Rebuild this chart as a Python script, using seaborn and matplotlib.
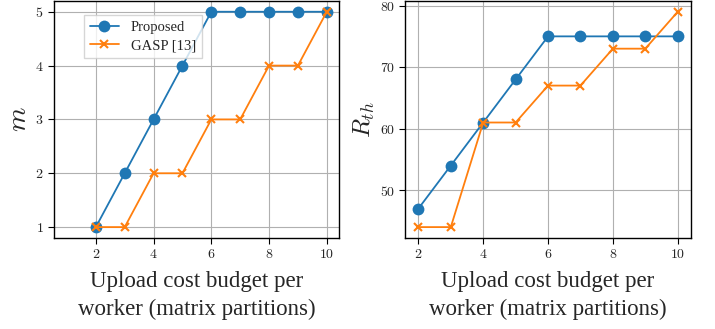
import matplotlib
matplotlib.use('Agg')
import matplotlib.pyplot as plt
import seaborn as sns
import pandas as pd
from matplotlib.ticker import FuncFormatter

budget = [2, 3, 4, 5, 6, 7, 8, 9, 10]
m_proposed = [1, 2, 3, 4, 5, 5, 5, 5, 5]
m_gasp = [1, 1, 2, 2, 3, 3, 4, 4, 5]
rth_proposed = [47, 54, 61, 68, 75, 75, 75, 75, 75]
rth_gasp = [44, 44, 61, 61, 67, 67, 73, 73, 79]

sns.set_style('ticks', {'axes.grid': True, 'grid.color': '#b0b0b0',
                        'axes.edgecolor': 'black'})
plt.rcParams['font.family'] = ['Liberation Serif', 'DejaVu Serif']
plt.rcParams['mathtext.fontset'] = 'cm'

fig = plt.figure(figsize=(7.15, 3.29), dpi=100)
ax1 = fig.add_axes([0.0755, 0.277, 0.3985, 0.72])
ax2 = fig.add_axes([0.567, 0.277, 0.399, 0.72])

math_fmt = FuncFormatter(lambda v, p: r'$%d$' % v)


def draw(ax, proposed, gasp, ylabel, ysize):
    df_p = pd.DataFrame({'x': budget, 'y': proposed})
    df_g = pd.DataFrame({'x': budget, 'y': gasp})
    sns.lineplot(data=df_p, x='x', y='y', ax=ax, color='#1f77b4',
                 marker='o', markersize=8.5, markeredgewidth=0,
                 linewidth=1.3, label='Proposed', zorder=3)
    sns.lineplot(data=df_g, x='x', y='y', ax=ax, color='#ff7f0e',
                 marker='x', markersize=6, markeredgewidth=1.5,
                 markeredgecolor='#ff7f0e',
                 linewidth=1.3, label='GASP [13]', zorder=4)
    ax.set_xlabel('Upload cost budget per\nworker (matrix partitions)',
                  fontsize=16.5, linespacing=1.45, labelpad=7)
    ax.set_ylabel(ylabel, fontsize=ysize, labelpad=2)
    ax.set_xticks([2, 4, 6, 8, 10])
    ax.xaxis.set_major_formatter(math_fmt)
    ax.yaxis.set_major_formatter(math_fmt)
    ax.tick_params(labelsize=10, length=4, width=0.8, color='black')
    for s in ax.spines.values():
        s.set_color('black')
        s.set_linewidth(1.0)


draw(ax1, m_proposed, m_gasp, r'$m$', 20)
ax1.set_xlim(0.55, 10.42)
ax1.set_ylim(0.8, 5.2)
ax1.set_yticks([1, 2, 3, 4, 5])
ax1.legend(loc='upper left', bbox_to_anchor=(0.08, 0.97), fontsize=10.5,
           frameon=True, fancybox=False, edgecolor='#cccccc',
           handlelength=2.0, borderpad=0.4, labelspacing=0.3)

draw(ax2, rth_proposed, rth_gasp, r'$R_{th}$', 18)
ax2.set_xlim(1.6, 10.4)
ax2.set_ylim(42.25, 80.75)
ax2.set_yticks([50, 60, 70, 80])
ax2.get_legend().remove()

fig.savefig('out.png', dpi=100)
plt.close(fig)
